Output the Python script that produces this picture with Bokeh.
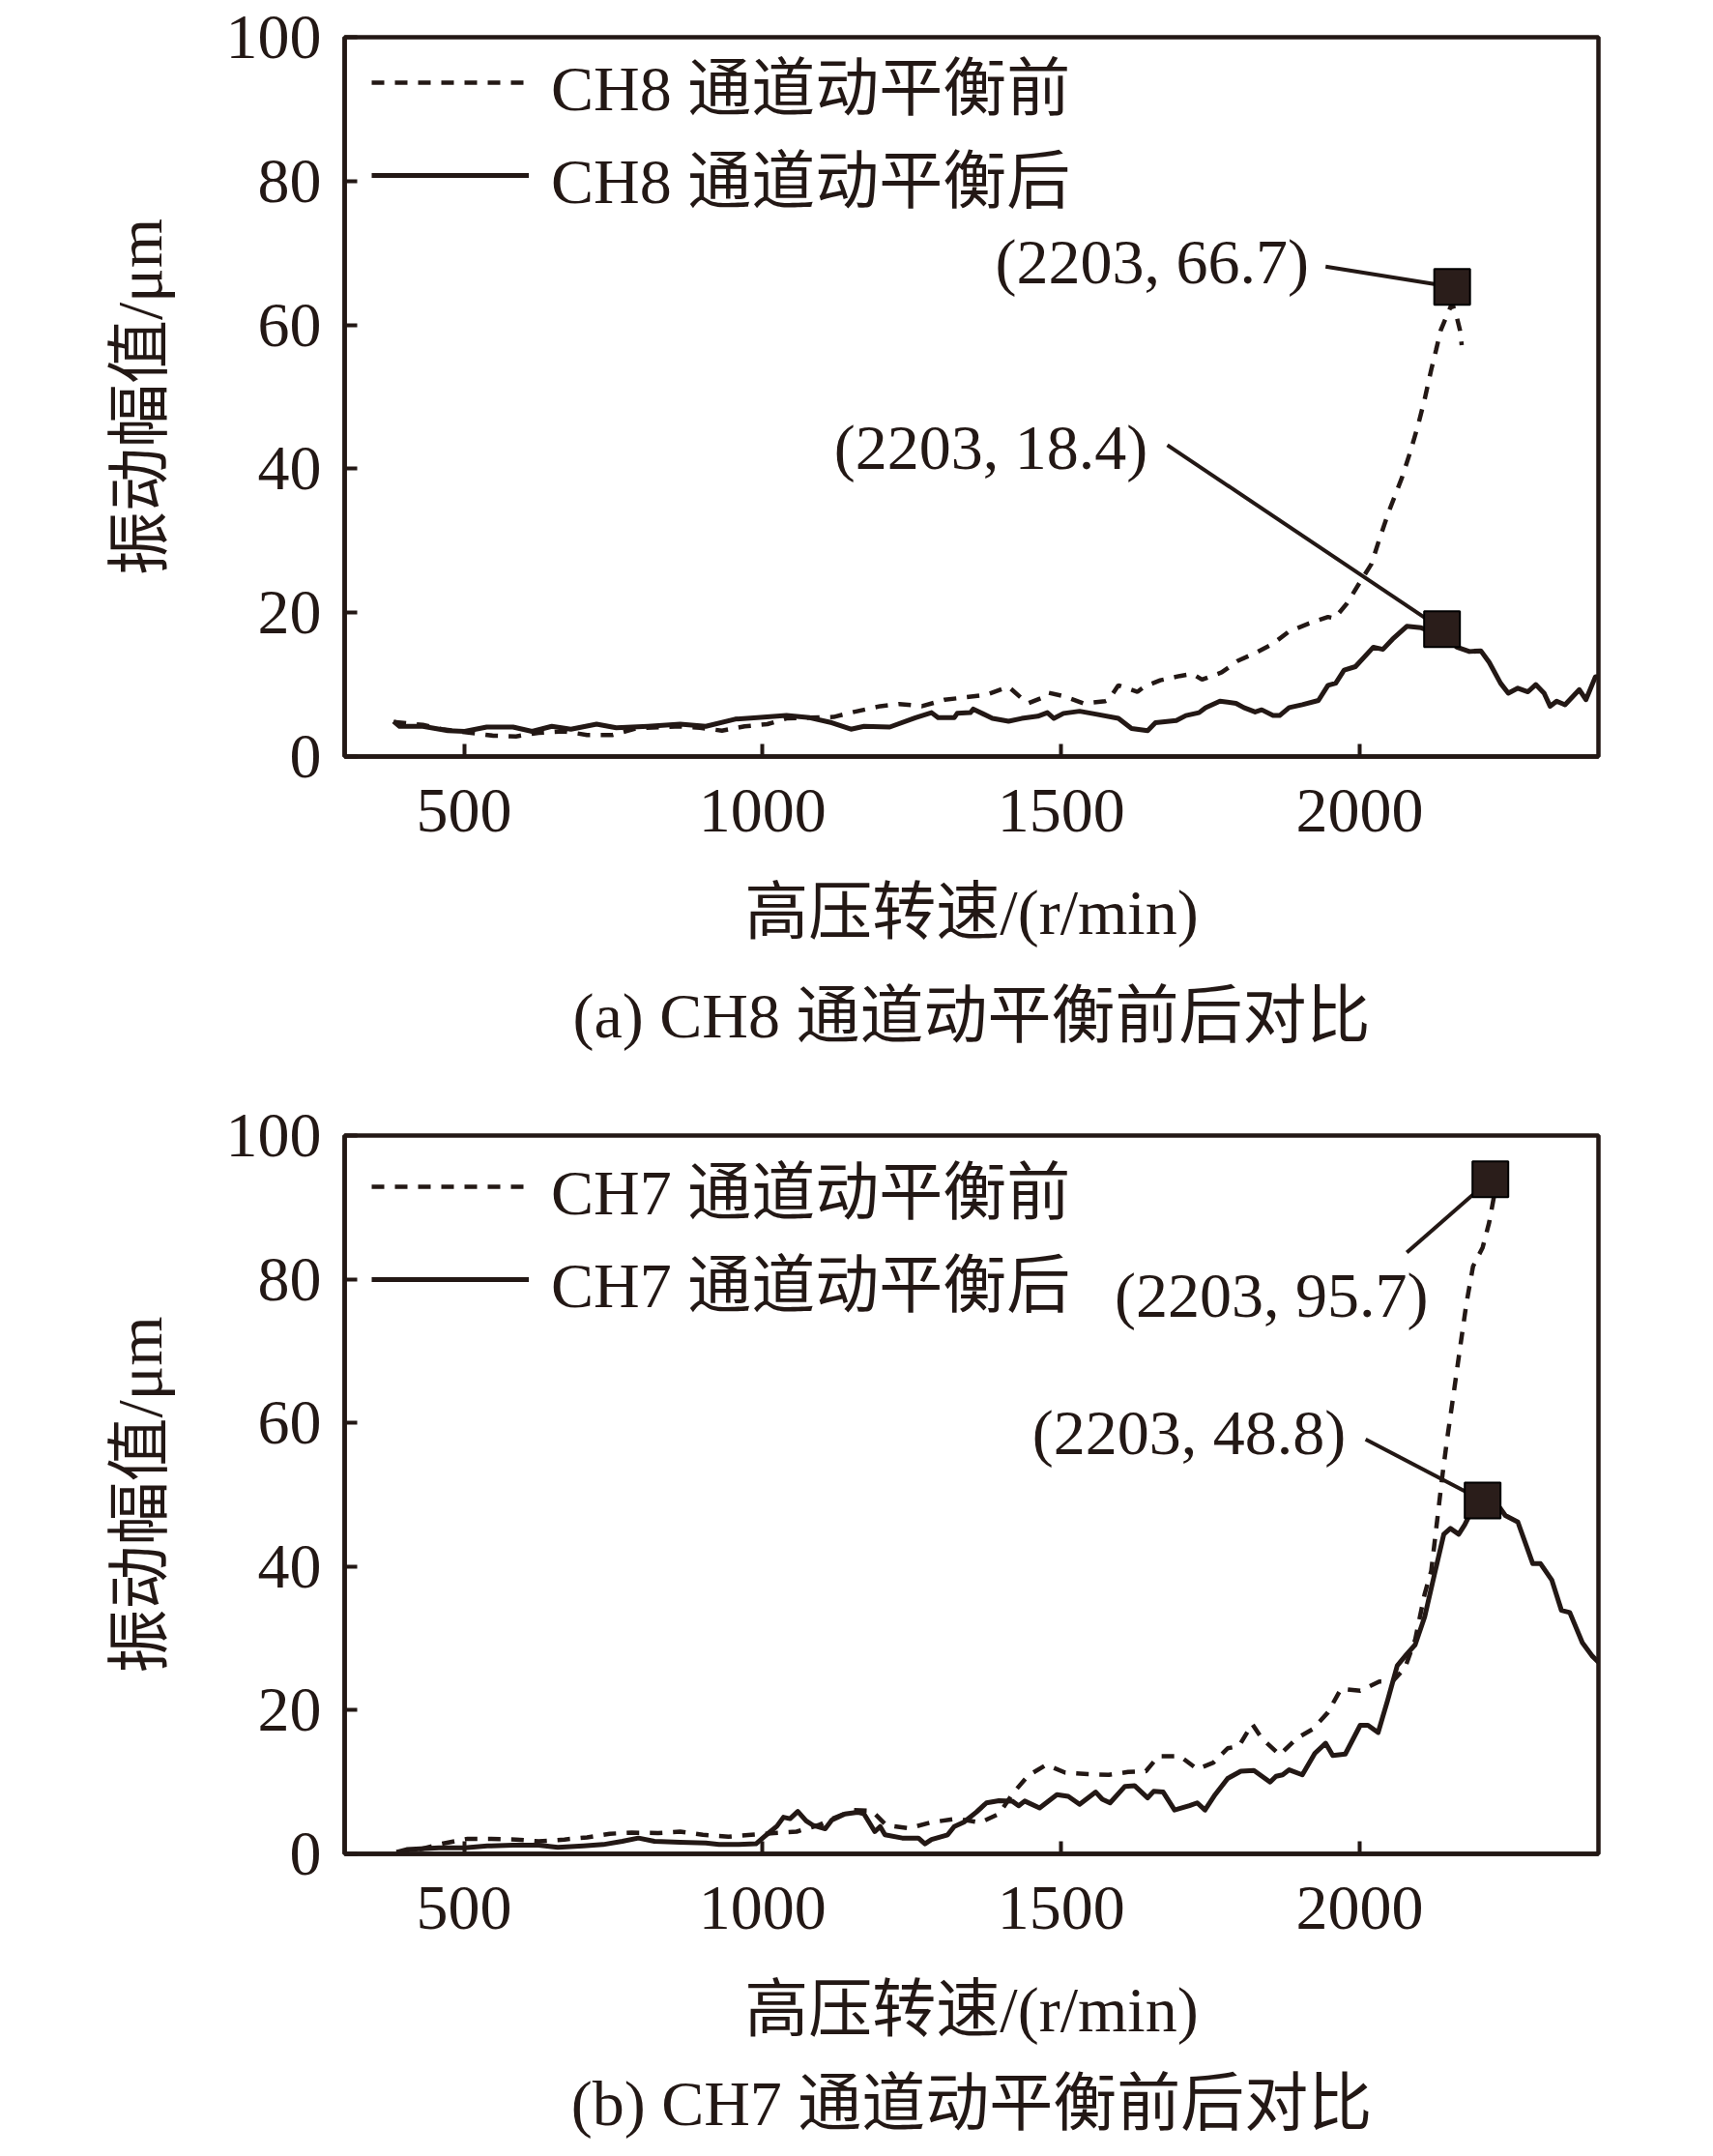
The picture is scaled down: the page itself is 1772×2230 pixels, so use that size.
from bokeh.plotting import figure
from bokeh.layouts import column
from bokeh.models import Range1d, Legend, LegendItem, Title, FixedTicker
from bokeh.core.properties import value
from bokeh.embed import file_html
from bokeh.resources import INLINE

INK = "#231815"
FONT = "'Liberation Serif', 'Noto Sans CJK SC', serif"

# ---------------- data: CH8 ----------------
ch8_before_x = [382, 431, 463, 501, 549, 587, 625, 668, 706, 749, 787, 830, 862, 895, 932, 970, 1008,
                1040, 1078, 1119, 1153, 1197, 1229, 1267, 1305, 1337, 1375, 1412, 1434, 1445, 1466, 1477,
                1504, 1537, 1574, 1580, 1596, 1628, 1639, 1666, 1699, 1720, 1736, 1769, 1796, 1828, 1855,
                1882, 1915, 1947, 1958, 1979, 2001, 2020, 2033, 2050, 2071, 2085, 2098, 2109, 2120, 2128,
                2136, 2147, 2155, 2163, 2168, 2171]
ch8_before_y = [4.8, 4.4, 3.8, 3.4, 2.9, 2.8, 3.3, 3.5, 3.0, 3.0, 3.9, 4.1, 4.2, 4.0, 3.6, 4.2, 4.5,
                5.3, 5.4, 5.5, 6.2, 7.0, 7.3, 7.0, 7.9, 8.2, 8.6, 9.7, 8.1, 7.4, 8.1, 8.9,
                8.4, 7.4, 7.7, 7.9, 9.9, 9.0, 9.7, 10.6, 11.2, 11.5, 10.7, 11.7, 13.3, 14.5, 15.7,
                17.4, 18.5, 19.4, 19.2, 21.3, 24.3, 26.8, 30.2, 34.3, 38.8, 42.4, 46.1, 49.7, 53.8, 56.5,
                59.3, 61.5, 63.0, 61.0, 59.3, 57.2]
ch8_after_x = [382, 392, 431, 473, 501, 538, 582, 614, 647, 679, 722, 755, 808, 862, 905, 954, 991, 1040,
               1079, 1116, 1148, 1170, 1213, 1256, 1283, 1294, 1321, 1326, 1348, 1353, 1385, 1412, 1434,
               1461, 1477, 1488, 1504, 1531, 1558, 1596, 1618, 1645, 1658, 1693, 1709, 1731, 1742, 1766,
               1793, 1806, 1825, 1836, 1855, 1866, 1882, 1904, 1931, 1947, 1960, 1974, 1993, 2023, 2039,
               2055, 2079, 2103, 2120, 2140, 2163, 2184, 2203, 2217, 2236, 2249, 2265, 2282, 2295, 2309,
               2319, 2330, 2344, 2368, 2379, 2395, 2400]
ch8_after_y = [4.9, 4.2, 4.2, 3.6, 3.5, 4.1, 4.1, 3.5, 4.2, 3.8, 4.5, 4.0, 4.2, 4.5, 4.2, 5.2, 5.4, 5.7,
               5.4, 4.7, 3.8, 4.2, 4.1, 5.4, 6.1, 5.4, 5.4, 6.0, 6.1, 6.6, 5.3, 4.9, 5.3,
               5.6, 6.1, 5.3, 6.0, 6.3, 5.9, 5.3, 3.9, 3.6, 4.7, 5.0, 5.7, 6.1, 6.8, 7.7,
               7.4, 6.8, 6.2, 6.5, 5.7, 5.7, 6.8, 7.2, 7.8, 9.9, 10.2, 12.0, 12.5, 15.2, 14.9,
               16.3, 18.1, 17.9, 17.4, 17.0, 15.2, 14.6, 14.7, 13.1, 10.2, 8.8, 9.5, 9.0, 10.0, 8.8,
               7.0, 7.7, 7.2, 9.3, 7.9, 11.1, 11.1]
ch8_mark_x = [2155, 2138]
ch8_mark_y = [65.3, 17.7]
ch8_labels = ["(2203, 66.7)", "(2203, 18.4)"]
ch8_label_x = [1915, 1645]
ch8_label_y = [68.8, 43.0]
ch8_lead_x = [1943, 1678]
ch8_lead_y = [68.1, 43.3]

# ---------------- data: CH7 ----------------
ch7_before_x = [387, 430, 463, 506, 544, 587, 625, 668, 706, 744, 781, 825, 862, 900, 943, 981, 1019,
                1057, 1094, 1120, 1153, 1183, 1207, 1245, 1283, 1326, 1364, 1396, 1420, 1445, 1475, 1507,
                1545, 1580, 1612, 1642, 1663, 1699, 1728, 1755, 1779, 1798, 1820, 1836, 1866, 1895, 1922,
                1947, 1969, 2001, 2033, 2055, 2076, 2093, 2109, 2120, 2130, 2139, 2147, 2157, 2168, 2179,
                2190, 2206, 2217, 2225, 2230]
ch7_before_y = [0.2, 0.7, 1.4, 2.1, 2.1, 2.0, 1.75, 2.0, 2.3, 2.8, 2.95, 2.9, 3.1, 2.65, 2.4, 2.65, 2.9,
                3.1, 4.0, 5.0, 6.1, 6.0, 4.0, 3.55, 4.4, 4.9, 4.35, 5.56, 8.5, 10.9, 12.4, 11.3,
                11.1, 11.0, 11.4, 11.5, 13.6, 13.6, 11.8, 12.7, 14.7, 15.0, 18.1, 16.1, 13.8, 16.1, 17.4,
                19.7, 23.0, 22.7, 24.0, 24.0, 25.9, 29.8, 36.2, 39.4, 46.5, 52.9, 58.0, 63.8, 70.3, 76.7,
                81.8, 84.4, 87.9, 91.5, 92.4]
ch7_after_x = [387, 404, 458, 501, 539, 582, 625, 657, 700, 733, 765, 792, 819, 862, 905, 927, 960, 989,
               1003, 1013, 1024, 1035, 1046, 1059, 1073, 1084, 1105, 1116, 1138, 1159, 1170, 1188, 1197,
               1205, 1234, 1261, 1272, 1283, 1310, 1321, 1337, 1358, 1375, 1396, 1418, 1429, 1439, 1464,
               1493, 1512, 1531, 1558, 1569, 1582, 1607, 1623, 1645, 1655, 1671, 1690, 1715, 1728, 1741,
               1758, 1779, 1801, 1823, 1850, 1860, 1871, 1882, 1904, 1925, 1943, 1955, 1976, 2001, 2014,
               2031, 2047, 2063, 2079, 2093, 2109, 2125, 2141, 2152, 2166, 2176, 2195, 2215, 2233, 2244,
               2265, 2290, 2303, 2322, 2338, 2352, 2373, 2390, 2400]
ch7_after_y = [0.2, 0.6, 0.85, 0.85, 1.1, 1.2, 1.2, 0.9, 1.1, 1.3, 1.75, 2.2, 1.75, 1.6, 1.5, 1.3, 1.3, 1.4,
               2.4, 3.1, 3.85, 5.1, 4.9, 5.9, 4.6, 4.0, 3.5, 4.7, 5.55, 5.8, 5.56, 3.1, 3.8,
               2.65, 2.2, 2.2, 1.4, 2.0, 2.65, 3.8, 4.4, 5.8, 7.1, 7.4, 7.35, 6.7, 7.35, 6.4,
               8.25, 8.0, 6.9, 8.6, 7.6, 7.1, 9.4, 9.5, 7.8, 8.7, 8.6, 6.1, 6.7, 7.1, 6.1,
               8.25, 10.5, 11.5, 11.6, 10.0, 10.8, 11.0, 11.7, 11.0, 14.0, 15.4, 13.7, 13.9, 17.9, 17.9,
               16.9, 21.4, 26.2, 27.8, 29.1, 33.0, 38.8, 44.5, 45.3, 44.5, 45.8, 49.0, 49.5, 48.4, 47.1,
               46.2, 40.4, 40.4, 38.1, 33.9, 33.6, 29.4, 27.5, 26.7]
ch7_mark_x = [2219, 2206]
ch7_mark_y = [93.9, 49.2]
ch7_labels = ["(2203, 95.7)", "(2203, 48.8)"]
ch7_label_x = [2115, 1977]
ch7_label_y = [77.8, 58.7]
ch7_lead_x = [2079, 2010]
ch7_lead_y = [83.7, 57.7]

x_ticks = [500, 1000, 1500, 2000]
y_ticks = [0, 20, 40, 60, 80, 100]


def make_panel(ch, bx, by, ax, ay, mx, my, labels, lx, ly, ldx, ldy, caption,
               height, top, bottom, title_standoff, legend_y):
    p = figure(width=1756, height=height, x_range=Range1d(300, 2400), y_range=Range1d(0, 100),
               output_backend="svg", toolbar_location=None,
               min_border_left=356, min_border_right=103, min_border_top=top, min_border_bottom=bottom,
               background_fill_color="white", border_fill_color="white")
    p.grid.visible = False
    p.outline_line_color = INK
    p.outline_line_width = 4.5
    p.outline_line_alpha = 1

    for axis in (p.xaxis[0], p.yaxis[0]):
        axis.axis_line_color = INK
        axis.axis_line_width = 4.5
        axis.major_tick_in = 13
        axis.major_tick_out = 0
        axis.major_tick_line_width = 4
        axis.major_tick_line_color = INK
        axis.minor_tick_line_color = None
        axis.major_label_text_font = FONT
        axis.major_label_text_font_size = "66px"
        axis.major_label_text_color = INK
        axis.axis_label_text_font = FONT
        axis.axis_label_text_font_size = "66px"
        axis.axis_label_text_font_style = "normal"
        axis.axis_label_text_color = INK

    p.xaxis.ticker = FixedTicker(ticks=x_ticks)
    p.yaxis.ticker = FixedTicker(ticks=y_ticks)
    p.xaxis.axis_label = "高压转速/(r/min)"
    p.yaxis.axis_label = "振动幅值/μm"
    p.xaxis.major_label_standoff = 34
    p.xaxis.axis_label_standoff = 44
    p.yaxis.major_label_standoff = 24
    p.yaxis.axis_label_standoff = 50

    r_before = p.line(bx, by, line_color=INK, line_width=4.5, line_dash="13 11")
    r_after = p.line(ax, ay, line_color=INK, line_width=5, line_join="round")

    p.segment(x0=ldx, y0=ldy, x1=mx, y1=my, line_color=INK, line_width=4)
    p.scatter(mx, my, marker="square", size=37, fill_color="#2a1d1a", line_color="#000000", line_width=2)
    p.text(x=lx, y=ly, text=labels, text_font=value(FONT), text_font_size=value("66px"),
           text_align="right", text_baseline="middle", text_color=INK)

    legend = Legend(items=[LegendItem(label=f"{ch} 通道动平衡前", renderers=[r_before]),
                           LegendItem(label=f"{ch} 通道动平衡后", renderers=[r_after])],
                    location=(28, legend_y), orientation="vertical",
                    glyph_width=163, glyph_height=80, label_height=80, label_standoff=23,
                    spacing=-11, padding=0, margin=0,
                    border_line_alpha=0, background_fill_alpha=0,
                    label_text_font=FONT, label_text_font_size="66px", label_text_color=INK)
    p.add_layout(legend)

    p.add_layout(Title(text=caption, align="center", text_font=FONT, text_font_size="66px",
                       text_font_style="normal", text_color=INK, standoff=title_standoff), "below")
    return p


p1 = make_panel("CH8", ch8_before_x, ch8_before_y, ch8_after_x, ch8_after_y, ch8_mark_x, ch8_mark_y,
                ch8_labels, ch8_label_x, ch8_label_y, ch8_lead_x, ch8_lead_y,
                "(a) CH8 通道动平衡前后对比", 1122, 38, 340, 59, 553)
p2 = make_panel("CH7", ch7_before_x, ch7_before_y, ch7_after_x, ch7_after_y, ch7_mark_x, ch7_mark_y,
                ch7_labels, ch7_label_x, ch7_label_y, ch7_lead_x, ch7_lead_y,
                "(b) CH7 通道动平衡前后对比", 1108, 52, 312, 38, 546)

layout = column(p1, p2, spacing=0)
open("out.html", "w").write(file_html(layout, INLINE))
